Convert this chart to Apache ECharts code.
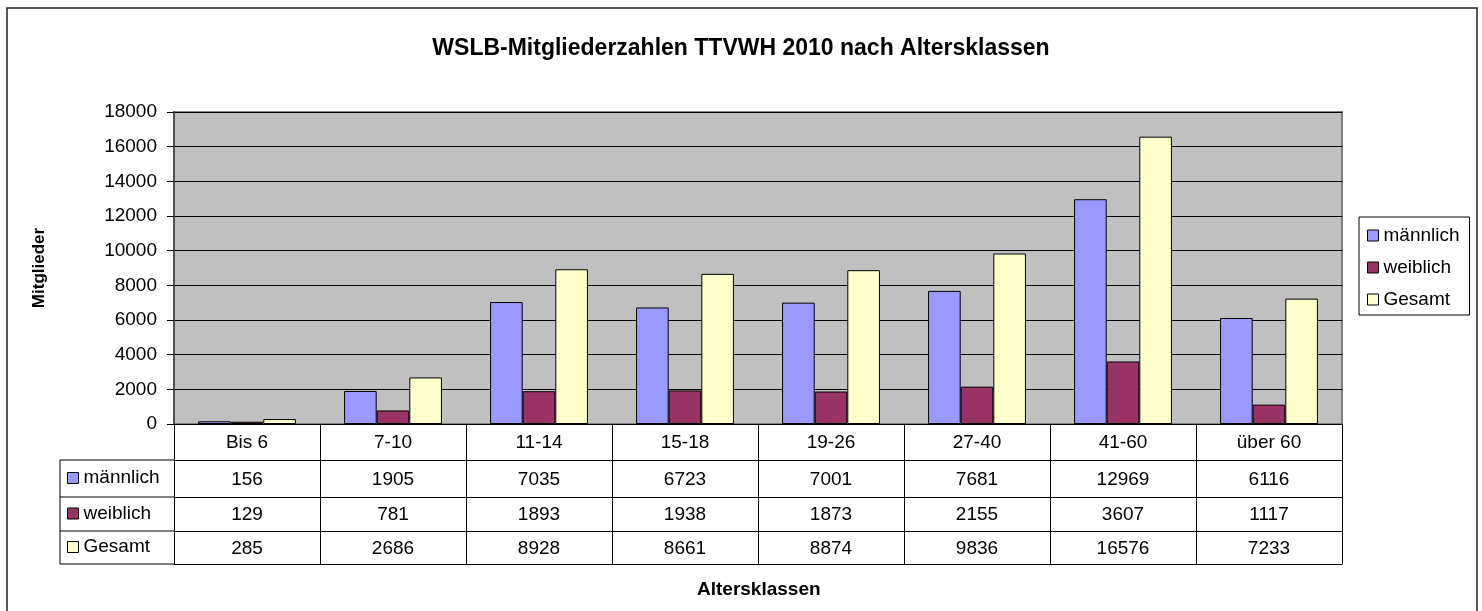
<!DOCTYPE html>
<html>
<head>
<meta charset="utf-8">
<title>WSLB-Mitgliederzahlen TTVWH 2010</title>
<script src="https://cdn.jsdelivr.net/npm/echarts@6/dist/echarts.min.js"></script>
<style>
html, body {margin: 0; padding: 0; background: #fff;}
#chart_1 {width: 1482px; height: 611px;}
</style>
</head>
<body>
<div id="chart_1"></div>
<script>
var categories = ['Bis 6', '7-10', '11-14', '15-18', '19-26', '27-40', '41-60', 'über 60'];
var seriesNames = ['männlich', 'weiblich', 'Gesamt'];
var maleData = [156, 1905, 7035, 6723, 7001, 7681, 12969, 6116];
var femaleData = [129, 781, 1893, 1938, 1873, 2155, 3607, 1117];
var totalData = [285, 2686, 8928, 8661, 8874, 9836, 16576, 7233];
var yMin = 0, yMax = 18000, yStep = 2000;

var colors = ['#9999FF', '#993366', '#FFFFCC'];
var font = '"Liberation Sans", Arial, sans-serif';

// plot box and table rows (pixels)
var gridLeft = 174, gridTop = 112, gridRight = 1342, gridBottom = 424;
var tableLeft = 60;
var rowBottoms = [460, 497, 531, 564];

var chart1 = echarts.init(document.getElementById('chart_1'));
var allSeries = [maleData, femaleData, totalData];
var rows = [categories, maleData, femaleData, totalData];

// every table row is an extra category axis moved down with offset
var xAxes = [];
for (var i = 0; i < rows.length; i++) {
    var rowTop = i === 0 ? gridBottom : rowBottoms[i - 1];
    var h = rowBottoms[i] - rowTop;
    xAxes.push({
        type: 'category',
        position: 'bottom',
        offset: rowBottoms[i] - gridBottom,
        data: rows[i].map(String),
        axisLine: {show: true, onZero: false, lineStyle: {color: '#000', width: 1}},
        axisTick: {show: true, inside: true, length: h, interval: 0, lineStyle: {color: '#000', width: 1}},
        axisLabel: {inside: true, interval: 0, margin: (h - 19) / 2 - 1, fontSize: 19, color: '#000', fontFamily: font},
        splitLine: {show: false}
    });
}

var series = [];
var legends = [{
    orient: 'vertical',
    left: 1359,
    top: 217,
    padding: [9, 10, 6, 8],
    itemGap: 13,
    itemWidth: 11,
    itemHeight: 11,
    icon: 'rect',
    selectedMode: false,
    backgroundColor: '#fff',
    borderColor: '#000',
    borderWidth: 1,
    itemStyle: {borderColor: '#000', borderWidth: 1},
    textStyle: {fontSize: 19, color: '#000', fontFamily: font},
    data: seriesNames
}];
for (var j = 0; j < seriesNames.length; j++) {
    series.push({
        name: seriesNames[j],
        type: 'bar',
        barGap: '0%',
        barCategoryGap: '33%',
        itemStyle: {color: colors[j], borderColor: '#000', borderWidth: 1},
        data: allSeries[j]
    });
    var center = (rowBottoms[j] + rowBottoms[j + 1]) / 2;
    legends.push({
        orient: 'vertical',
        left: 67,
        top: center - 10,
        padding: 0,
        itemWidth: 11,
        itemHeight: 11,
        icon: 'rect',
        selectedMode: false,
        itemStyle: {borderColor: '#000', borderWidth: 1},
        textStyle: {fontSize: 19, color: '#000', fontFamily: font},
        data: [seriesNames[j]]
    });
}

var tableLines = [{
    type: 'polyline',
    shape: {points: [[gridLeft, rowBottoms[0]], [tableLeft, rowBottoms[0]], [tableLeft, rowBottoms[3]], [gridLeft, rowBottoms[3]]]},
    style: {stroke: '#000', lineWidth: 1, fill: null}
}];
for (var k = 1; k < 3; k++) {
    tableLines.push({
        type: 'line',
        shape: {x1: tableLeft, y1: rowBottoms[k], x2: gridLeft, y2: rowBottoms[k]},
        style: {stroke: '#000', lineWidth: 1}
    });
}
tableLines.push({
    type: 'rect',
    shape: {x: 7, y: 8, width: 1470, height: 640},
    style: {fill: null, stroke: '#222', lineWidth: 1.5},
    z: -1
});

var option = {
    animation: false,
    backgroundColor: '#fff',
    title: [
        {
            text: 'WSLB-Mitgliederzahlen TTVWH 2010 nach Altersklassen',
            left: 'center',
            top: 32,
            textStyle: {fontSize: 23, fontWeight: 'bold', color: '#000', fontFamily: font}
        },
        {
            text: 'Altersklassen',
            left: (gridLeft + gridRight) / 2 - 66,
            top: 575,
            textStyle: {fontSize: 19, fontWeight: 'bold', color: '#000', fontFamily: font}
        }
    ],
    legend: legends,
    grid: {
        left: gridLeft,
        top: gridTop,
        width: gridRight - gridLeft,
        height: gridBottom - gridTop,
        show: true,
        backgroundColor: '#C0C0C0',
        borderColor: '#808080',
        borderWidth: 2
    },
    xAxis: xAxes,
    yAxis: {
        type: 'value',
        min: yMin,
        max: yMax,
        interval: yStep,
        name: 'Mitglieder',
        nameLocation: 'middle',
        nameGap: 126,
        nameTextStyle: {fontSize: 17, fontWeight: 'bold', color: '#000', fontFamily: font},
        axisLine: {show: true, lineStyle: {color: '#505050', width: 2}},
        axisTick: {show: true, length: 7, lineStyle: {color: '#000'}},
        axisLabel: {
            fontSize: 19, color: '#000', margin: 17, fontFamily: font,
            formatter: function (v) { return String(v); }
        },
        splitLine: {show: true, lineStyle: {color: '#000', width: 1}}
    },
    graphic: tableLines,
    series: series
};
chart1.setOption(option);
</script>
</body>
</html>
